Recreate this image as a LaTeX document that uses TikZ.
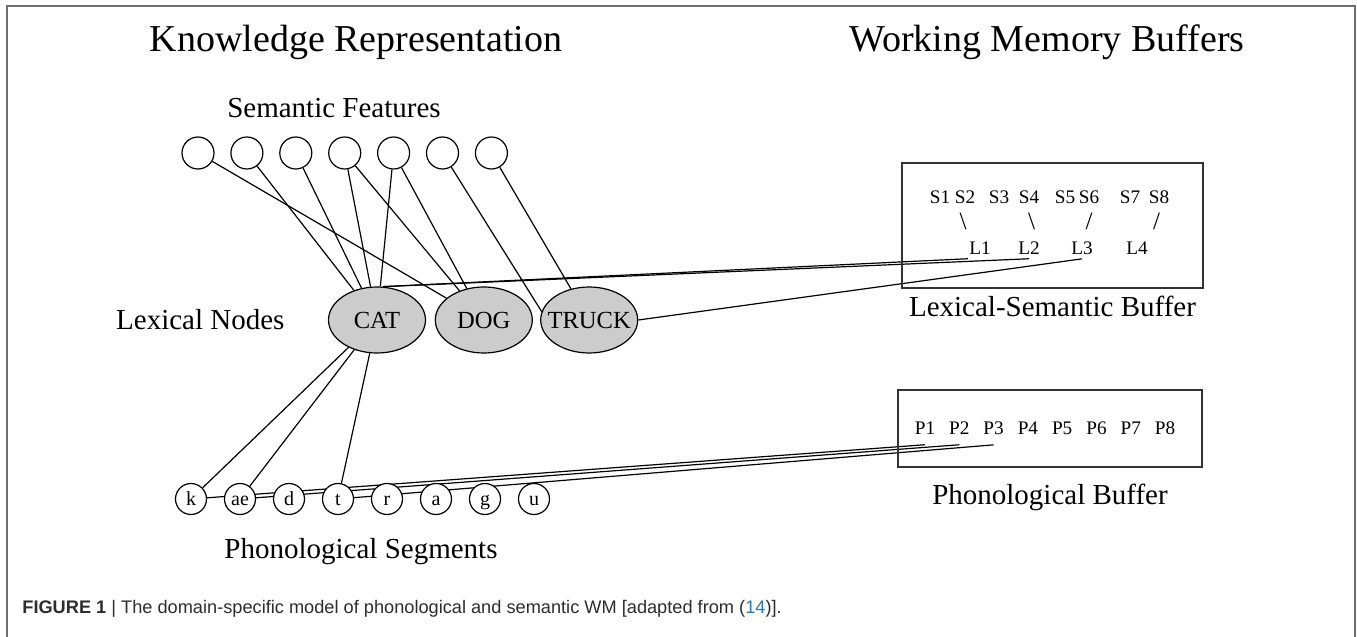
\documentclass[tikz,border=0pt]{standalone}
\usepackage{fontspec}
\setmainfont{Liberation Serif}
\newfontfamily\captionsans{Liberation Sans}
\usepackage{xcolor}
\usepackage{tikz}
\usetikzlibrary{positioning, shapes.geometric, backgrounds, calc}
\definecolor{frameGray}{RGB}{110,110,110}
\definecolor{capText}{RGB}{45,45,45}
\definecolor{refBlue}{RGB}{40,120,190}
\tikzset{
    featnode/.style={
        circle,
        draw,
        fill=white,
        line width=0.6pt,
        minimum size=16pt,
        inner sep=0pt
    },
    segnode/.style={
        circle,
        draw,
        fill=white,
        line width=0.6pt,
        minimum size=15.5pt,
        inner sep=0pt,
        text height=7pt,
        text depth=0.5pt,
        font=\fontsize{10}{12}\selectfont
    },
    lexnode/.style={
        ellipse,
        draw,
        fill=gray!40,
        line width=0.6pt,
        minimum width=48.5pt,
        minimum height=33pt,
        inner sep=0pt,
        font=\fontsize{12.3}{14}\selectfont
    },
    bufbox/.style={
        draw=black!80,
        line width=0.6pt,
        inner sep=0pt
    },
    titletext/.style={inner sep=0pt, font=\fontsize{19}{23}\selectfont},
    labeltext/.style={inner sep=0pt, font=\fontsize{14.5}{17}\selectfont},
    slotlabel/.style={inner sep=0pt, font=\fontsize{9.6}{11}\selectfont},
    lslot/.style={slotlabel, inner xsep=0.5pt, inner ysep=2pt},
    pslot/.style={slotlabel, inner ysep=5pt},
    slash/.style={inner sep=0pt, font=\fontsize{12.5}{14}\selectfont},
    link/.style={line width=0.6pt},
    frameline/.style={draw=frameGray, line width=0.6pt}
}
\begin{document}
\begin{tikzpicture}[x=0.5pt, y=-0.5pt]
                \useasboundingbox (0,0) rectangle (1357,637);
                \draw[frameline] (7,637) -- (7,6) -- (1355,6) -- (1355,637);

                \node[titletext, anchor=base] (kr) at (356,52) {Knowledge Representation};
                \node[titletext, anchor=base] (wmb) at (1047,52) {Working Memory Buffers};

                \node[labeltext, anchor=base] (semlabel) at (334,118) {Semantic Features};
                \node[featnode] (f1) at (198,153) {};
                \node[featnode, right=7.85pt of f1] (f2) {};
                \node[featnode, right=7.85pt of f2] (f3) {};
                \node[featnode, right=7.85pt of f3] (f4) {};
                \node[featnode, right=7.85pt of f4] (f5) {};
                \node[featnode, right=7.85pt of f5] (f6) {};
                \node[featnode, right=7.85pt of f6] (f7) {};

                \node[lexnode] (CAT) at (377,320) {\makebox[0pt]{CAT}};
                \node[lexnode, right=4.3pt of CAT] (DOG) {\makebox[0pt]{DOG}};
                \node[lexnode, right=3.6pt of DOG] (TRUCK) {\makebox[0pt]{TRUCK}};
                \node[labeltext, left=21.5pt of CAT] (lexlabel) {Lexical Nodes};

                \node[segnode] (k) at (191,499) {k};
                \node[segnode, right=8.4pt of k] (ae) {ae};
                \node[segnode, right=8.4pt of ae] (d) {d};
                \node[segnode, right=8.4pt of d] (t) {t};
                \node[segnode, right=8.4pt of t] (r) {r};
                \node[segnode, right=8.4pt of r] (a) {a};
                \node[segnode, right=8.4pt of a] (g) {g};
                \node[segnode, right=8.4pt of g] (u) {u};
                \node[labeltext, anchor=base] (seglabel) at (361,558) {Phonological Segments};

                \node[bufbox, minimum width=150.5pt, minimum height=62.5pt] (lsbuf) at (1052.5,225.5) {};
                \node[labeltext, below=3.5pt of lsbuf] (lslabel) {Lexical-Semantic Buffer};
                \node[slotlabel] (S1) at (940,197) {S1};
                \node[slotlabel] (S2) at (965,197) {S2};
                \node[slotlabel] (S3) at (999,197) {S3};
                \node[slotlabel] (S4) at (1029,197) {S4};
                \node[slotlabel] (S5) at (1065,197) {S5};
                \node[slotlabel] (S6) at (1089,197) {S6};
                \node[slotlabel] (S7) at (1130,197) {S7};
                \node[slotlabel] (S8) at (1159,197) {S8};
                \node[slash] (sl1) at (963,221) {\textbackslash};
                \node[slash] (sl2) at (1031.5,221) {\textbackslash};
                \node[slash] (sl3) at (1089,221) {/};
                \node[slash] (sl4) at (1156.5,221) {/};
                \node[lslot] (L1) at (980,248) {L1};
                \node[lslot] (L2) at (1029,248) {L2};
                \node[lslot] (L3) at (1082,248) {L3};
                \node[lslot] (L4) at (1137,248) {L4};

                \node[bufbox, minimum width=152pt, minimum height=38.5pt] (phbuf) at (1050,428.5) {};
                \node[labeltext, below=8pt of phbuf] (phlabel) {Phonological Buffer};
                \node[pslot] (P1) at (925,428) {P1};
                \node[pslot] (P2) at (959.3,428) {P2};
                \node[pslot] (P3) at (993.6,428) {P3};
                \node[pslot] (P4) at (1027.9,428) {P4};
                \node[pslot] (P5) at (1062.2,428) {P5};
                \node[pslot] (P6) at (1096.5,428) {P6};
                \node[pslot] (P7) at (1130.8,428) {P7};
                \node[pslot] (P8) at (1165.1,428) {P8};

                \begin{scope}[on background layer]
                    \draw[link] (f1) -- (DOG);
                    \draw[link] (f2) -- (CAT);
                    \draw[link] (f3) -- (CAT);
                    \draw[link] (f4) -- (CAT);
                    \draw[link] (f4) -- (DOG);
                    \draw[link] (f5) -- (CAT);
                    \draw[link] (f5) -- (DOG);
                    \draw[link] (f6) -- (TRUCK.170);
                    \draw[link] (f7) -- (TRUCK);
                    \draw[link] (CAT.80) -- (L1.south west);
                    \draw[link] (CAT.80) -- (L2.south);
                    \draw[link] (TRUCK.east) -- (L3.south);
                    \draw[link] (CAT) -- (k);
                    \draw[link] (CAT) -- (ae);
                    \draw[link] (CAT) -- (t);
                    \draw[link] (k) -- (P1.south);
                    \draw[link] (ae) -- (P2.south);
                    \draw[link] (t) -- (P3.south);
                \end{scope}

                \node[anchor=base west, inner sep=0pt, text=capText, font=\captionsans\fontsize{9.1}{11}\selectfont] (caption) at (22,613)
                    {\textbf{FIGURE 1} | The domain-specific model of phonological and semantic WM [adapted from (\textcolor{refBlue}{14})].};
            \end{tikzpicture}
\end{document}
